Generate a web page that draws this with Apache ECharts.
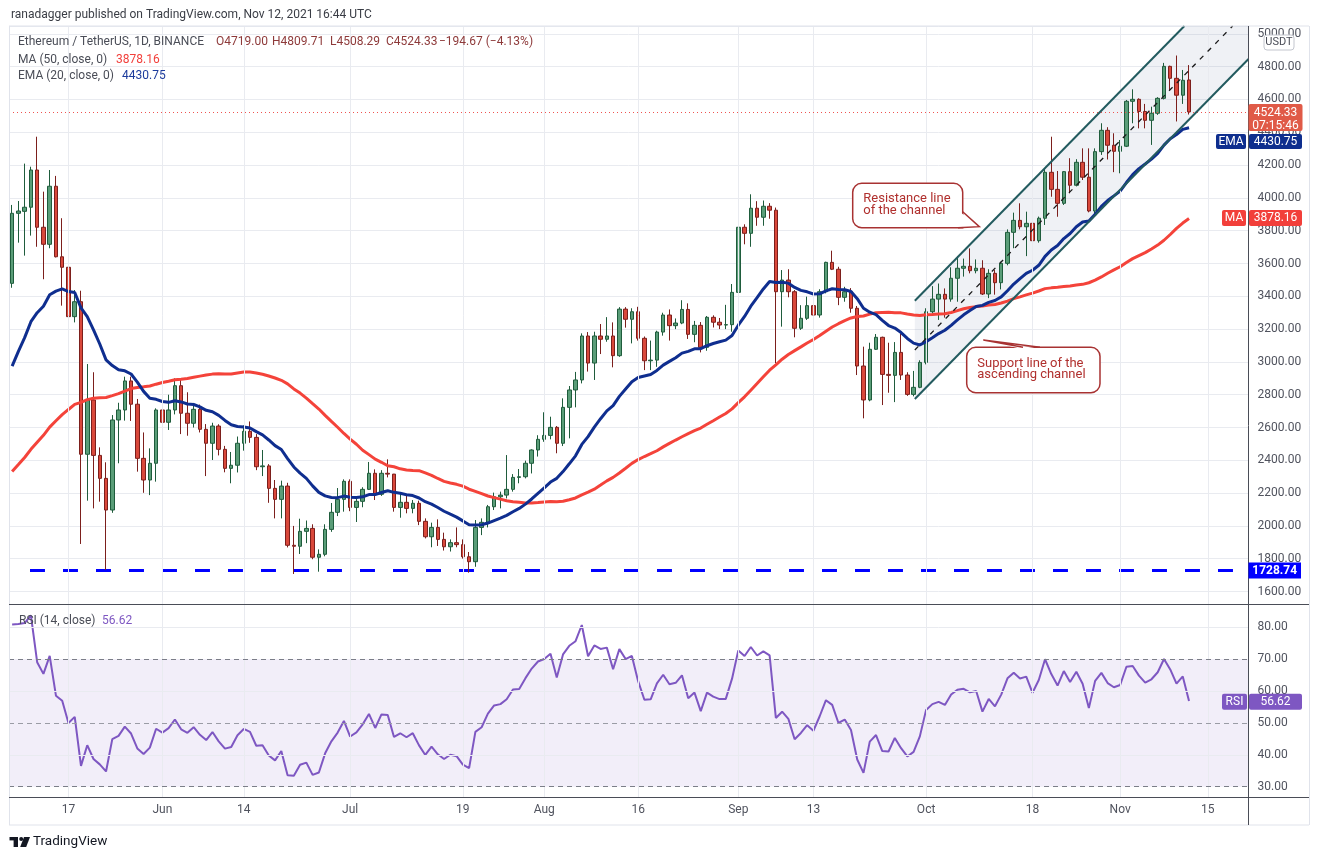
<!DOCTYPE html>
<html><head><meta charset="utf-8">
<script src="https://cdn.jsdelivr.net/npm/echarts/dist/echarts.min.js"></script>
<style>html,body{margin:0;padding:0;background:#fff;}#c{width:1320px;height:860px;}</style>
</head><body><div id="c"></div>
<script>
// ---------- DATA ----------
const startDate = [2021, 4, 8];           // 2021-05-08 (first candle)
const categoryCount = 198;                // daily slots incl. empty right margin
const tickDates = ['2021-05-17','2021-06-01','2021-06-14','2021-07-01','2021-07-19','2021-08-01','2021-08-16','2021-09-01','2021-09-13','2021-10-01','2021-10-18','2021-11-01','2021-11-15'];
const tickTexts = ['17','Jun','14','Jul','19','Aug','16','Sep','13','Oct','18','Nov','15'];

const opens = [3479,3906,3918,3943,4170,3821,3717,4071,3641,3577,
3276,3367,2437,2768,2430,2290,2097,2646,2707,2884,
2742,2412,2280,2382,2707,2632,2707,2855,2687,2626,
2711,2589,2504,2609,2467,2351,2370,2504,2577,2540,
2361,2366,2229,2162,2243,1882,1876,1967,1985,1809,
1827,1979,2083,2162,2272,2113,2150,2223,2321,2193,
2321,2316,2113,2144,2107,2138,2028,1934,1991,1918,
1873,1898,1886,1812,1782,1991,2022,2117,2178,2188,
2223,2296,2300,2382,2463,2528,2552,2601,2504,2723,
2829,2890,3158,2993,3158,3138,3158,3038,3322,3260,
3306,3144,3007,3011,3182,3286,3221,3237,3320,3168,
3223,3089,3272,3242,3225,3227,3424,3821,3784,3937,
3882,3949,3925,3428,3499,3428,3205,3266,3343,3286,
3428,3607,3565,3394,3428,3327,2975,2768,3077,3150,
2924,2918,3058,2920,2802,2845,2997,3306,3383,3412,
3383,3510,3571,3583,3556,3571,3414,3540,3483,3601,
3790,3863,3824,3845,3739,3876,4156,4052,3967,4160,
4077,4217,4126,3920,4282,4412,4321,4284,4315,4589,
4601,4527,4473,4516,4607,4802,4729,4626,4719];

const closes = [3906,3920,3943,4170,3821,3717,4071,3641,3577,3276,
3367,2437,2768,2430,2290,2097,2646,2707,2884,2742,
2412,2280,2382,2707,2632,2707,2855,2687,2626,2711,
2589,2504,2609,2467,2351,2370,2504,2577,2540,2361,
2366,2229,2162,2243,1882,1876,1967,1985,1809,1827,
1979,2083,2162,2272,2113,2150,2223,2321,2193,2321,
2316,2113,2144,2107,2138,2028,1934,1991,1918,1873,
1898,1886,1812,1782,1991,2022,2117,2178,2188,2223,
2296,2300,2382,2463,2528,2552,2601,2504,2723,2829,
2890,3158,2993,3158,3138,3158,3038,3322,3260,3306,
3144,3007,3011,3182,3286,3221,3237,3320,3168,3223,
3089,3272,3242,3225,3227,3424,3821,3784,3937,3882,
3949,3925,3428,3499,3428,3205,3266,3343,3286,3428,
3607,3565,3394,3428,3327,2975,2768,3077,3150,2924,
2918,3058,2920,2802,2845,2997,3306,3383,3412,3383,
3510,3571,3583,3556,3571,3414,3540,3483,3601,3790,
3863,3824,3845,3739,3876,4156,4052,3967,4160,4077,
4217,4126,3920,4282,4412,4321,4284,4315,4589,4601,
4527,4473,4516,4607,4802,4729,4626,4717,4524.33];

const lows = [3452,3727,3648,3770,3702,3504,3693,3637,3343,3107,
3241,1890,2154,2107,2148,1731,2080,2382,2642,2640,
2331,2202,2188,2270,2590,2585,2680,2560,2550,2600,
2570,2304,2402,2430,2327,2260,2326,2459,2507,2340,
2304,2141,2046,2046,1869,1707,1829,1895,1797,1721,
1815,1964,2060,2087,2090,2024,2114,2219,2158,2183,
2296,2087,2050,2077,2077,2005,1924,1870,1878,1850,
1844,1870,1801,1715,1751,1944,1991,2097,2107,2168,
2209,2260,2290,2320,2423,2513,2528,2443,2487,2534,
2723,2869,2941,2890,3048,3123,2967,3031,3209,3113,
3130,2950,2950,2970,3160,3130,3200,3230,3140,3120,
3058,3068,3210,3200,3200,3184,3390,3717,3702,3830,
3830,3873,2993,3215,3394,3150,3195,3256,3164,3270,
3418,3560,3346,3367,3300,2920,2656,2760,3073,2737,
2812,2755,2890,2793,2790,2840,2985,3296,3256,3270,
3367,3367,3520,3540,3540,3408,3389,3410,3442,3589,
3693,3808,3645,3679,3727,3835,4007,3885,3957,4028,
4070,4109,3912,3905,4262,4234,4157,4150,4310,4455,
4424,4424,4323,4506,4600,4658,4466,4573,4508.29];

const highs = [3957,3981,4209,4190,4373,4038,4170,4134,3876,3590,
3438,3434,2987,2937,2479,2388,2676,2751,2910,2910,
2774,2570,2473,2717,2747,2800,2900,2890,2815,2750,
2740,2621,2629,2620,2488,2451,2545,2613,2637,2560,
2463,2377,2280,2276,2263,2000,2044,2033,2010,1857,
2010,2140,2231,2284,2284,2178,2236,2390,2345,2340,
2406,2317,2199,2189,2158,2154,2046,2020,2040,1959,
1918,1991,1918,1841,2036,2046,2128,2203,2209,2432,
2316,2347,2398,2467,2553,2693,2666,2609,2778,2853,
2939,3174,3182,3184,3231,3273,3241,3334,3334,3327,
3336,3155,3130,3190,3300,3320,3265,3376,3357,3250,
3243,3280,3284,3268,3348,3475,3835,3839,4022,3980,
3984,3968,3941,3560,3565,3438,3346,3398,3398,3443,
3611,3678,3580,3458,3450,3341,3093,3117,3170,3154,
3117,3121,3170,2937,2945,3010,3327,3462,3478,3448,
3577,3646,3630,3692,3625,3620,3565,3560,3611,3808,
3910,3967,3916,3924,3886,4180,4373,4164,4164,4242,
4236,4302,4302,4302,4455,4431,4394,4353,4597,4662,
4607,4573,4556,4614,4823,4806,4868,4780,4809.71];

// closes before the first visible candle (2021-03-19 .. 2021-05-07), used to warm up MA/EMA/RSI
const priorCloses = [1810,1806,1782,1680,1670,1582,1587,1700,1715,1690,1817,1845,1918,
1977,2143,2028,2093,2107,2112,1964,2080,2070,2135,2150,2137,2300,2430,2515,2420,2315,
2235,2170,2330,2360,2400,2365,2210,2315,2535,2660,2745,2756,2770,
2945,2950,3430,3240,3520,3490,3480];

// drawn objects (x in day index, y in price)
const supportLine = [[144.2, 2774], [197.5, 4847]];
const resistanceLine = [[144.2, 3373], [187.26, 5048]];
const midLine = [[144.2, 3073], [194.97, 5048]];
const supportLevel = [[2.85, 1728.74], [197.5, 1728.74]];
const lastPrice = 4524.33;
const lastMA = 3878.16, lastEMA = 4430.75, lastRSI = 56.62;

// ---------- DERIVED ----------
const dates = [];
for (let i = 0; i < categoryCount; i++) {
  const d = new Date(Date.UTC(startDate[0], startDate[1], startDate[2] + i));
  dates.push(d.toISOString().slice(0, 10));
}
const tickIdx = tickDates.map(d => dates.indexOf(d));
const candles = opens.map((o, i) => [o, closes[i], lows[i], highs[i]]);
const all = priorCloses.concat(closes);
const P = priorCloses.length;
function smaArr(v, n) { return v.map((x, i) => i < n - 1 ? null : v.slice(i - n + 1, i + 1).reduce((a, b) => a + b, 0) / n); }
function emaArr(v, n) {
  const k = 2 / (n + 1), out = []; let e = null;
  for (let i = 0; i < v.length; i++) {
    if (i < n - 1) { out.push(null); continue; }
    if (i === n - 1) e = v.slice(0, n).reduce((a, b) => a + b, 0) / n; else e = v[i] * k + e * (1 - k);
    out.push(e);
  }
  return out;
}
function rsiArr(v, n) {
  const out = new Array(v.length).fill(null); let g = 0, l = 0;
  for (let k = 1; k <= n; k++) { const d = v[k] - v[k - 1]; if (d > 0) g += d; else l -= d; }
  g /= n; l /= n; out[n] = 100 - 100 / (1 + g / l);
  for (let k = n + 1; k < v.length; k++) {
    const d = v[k] - v[k - 1];
    g = (g * (n - 1) + Math.max(d, 0)) / n; l = (l * (n - 1) + Math.max(-d, 0)) / n;
    out[k] = l === 0 ? 100 : 100 - 100 / (1 + g / l);
  }
  return out;
}
const r2 = x => x == null ? null : Math.round(x * 100) / 100;
const ma50 = smaArr(all, 50).slice(P).map(r2);
const ema20 = emaArr(all, 20).slice(P).map(r2);
const rsi14 = rsiArr(all, 14).slice(P).map(r2);
const channelPoly = [supportLine[0], resistanceLine[0], resistanceLine[1], [197.5, 5048], supportLine[1]];

// ---------- CHART ----------
const FONT = 'Roboto, "Liberation Sans", Arial, sans-serif';
const GRID = '#e9ebf0';
const AX = '#50535e';
const chart = echarts.init(document.getElementById('c'), null, { width: 1320, height: 860 });

const vGrid = tickIdx.map(i => ({ xAxis: i }));
const rsiLevels = [
  { yAxis: 80, lineStyle: { color: GRID, type: 'solid', width: 1 } },
  { yAxis: 60, lineStyle: { color: GRID, type: 'solid', width: 1 } },
  { yAxis: 40, lineStyle: { color: GRID, type: 'solid', width: 1 } },
  { yAxis: 70, lineStyle: { color: '#7b7e88', type: [5, 4], width: 1 } },
  { yAxis: 50, lineStyle: { color: '#9a9ca5', type: [5, 4], width: 1 } },
  { yAxis: 30, lineStyle: { color: '#7b7e88', type: [5, 4], width: 1 } }
];

const option = {
  animation: false,
  backgroundColor: '#ffffff',
  grid: [
    { left: 9, right: 71.5, top: 26, height: 578.5 },
    { left: 9, right: 71.5, top: 605, height: 192 }
  ],
  xAxis: [
    { type: 'category', gridIndex: 0, data: dates, boundaryGap: true, axisLine: { show: false }, axisTick: { show: false }, axisLabel: { show: false }, splitLine: { show: false } },
    { type: 'category', gridIndex: 1, data: dates, boundaryGap: true, axisLine: { show: false }, axisTick: { show: false },
      axisLabel: { show: true, interval: (idx) => tickIdx.indexOf(idx) >= 0, formatter: v => { const k = tickDates.indexOf(v); return k >= 0 ? tickTexts[k] : ''; },
        color: AX, fontSize: 12, fontFamily: FONT, margin: 7 }, splitLine: { show: false } },
    { type: 'value', gridIndex: 0, min: -0.5, max: categoryCount - 0.5, show: false },
    { type: 'value', gridIndex: 1, min: -0.5, max: categoryCount - 0.5, show: false }
  ],
  yAxis: [
    { type: 'value', gridIndex: 0, position: 'right', min: 1521, max: 5048, splitNumber: 17,
      axisLine: { show: false }, axisTick: { show: false },
      axisLabel: { color: AX, fontSize: 12, fontFamily: FONT, margin: 9, formatter: v => Math.abs(v / 200 - Math.round(v / 200)) < 1e-6 ? v.toFixed(2) : '' },
      splitLine: { show: true, lineStyle: { color: GRID, width: 1 } } },
    { type: 'value', gridIndex: 1, position: 'right', min: 26.77, max: 86.9, splitNumber: 6,
      axisLine: { show: false }, axisTick: { show: false },
      axisLabel: { color: AX, fontSize: 12, fontFamily: FONT, margin: 9, formatter: v => Math.abs(v / 10 - Math.round(v / 10)) < 1e-6 ? v.toFixed(2) : '' },
      splitLine: { show: false } }
  ],
  series: [
    { type: 'custom', xAxisIndex: 2, yAxisIndex: 0, data: [[0, 0]], silent: true, z: 1,
      renderItem: (params, api) => ({ type: 'polygon', shape: { points: channelPoly.map(p => api.coord(p)) }, style: { fill: 'rgba(110,125,160,0.11)' } }) },
    { type: 'line', xAxisIndex: 2, yAxisIndex: 0, data: [[-10, 3000]], showSymbol: false, silent: true, z: 1,
      markLine: { silent: true, symbol: ['none', 'none'], label: { show: false }, lineStyle: { color: GRID, type: 'solid', width: 1 }, data: vGrid } },
    { type: 'line', xAxisIndex: 2, yAxisIndex: 0, data: supportLevel, showSymbol: false, silent: true, z: 3,
      lineStyle: { color: '#0000ff', width: 3, type: [15, 18] } },
    { type: 'candlestick', xAxisIndex: 0, yAxisIndex: 0, data: candles, barWidth: 4, z: 3,
      itemStyle: { color: '#5a9d78', color0: '#d9483b', borderColor: '#1f5c3c', borderColor0: '#7c1f1c', borderWidth: 1 },
      markLine: { silent: true, symbol: ['none', 'none'], label: { show: false }, lineStyle: { color: '#ef5350', type: [1, 3], width: 1 }, data: [{ yAxis: lastPrice }] } },
    { type: 'line', xAxisIndex: 0, yAxisIndex: 0, data: ma50, showSymbol: false, silent: true, z: 4, lineStyle: { color: '#f4433a', width: 3 } },
    { type: 'line', xAxisIndex: 0, yAxisIndex: 0, data: ema20, showSymbol: false, silent: true, z: 4, lineStyle: { color: '#0f2e8f', width: 3 } },
    { type: 'line', xAxisIndex: 2, yAxisIndex: 0, data: supportLine, showSymbol: false, silent: true, z: 5, lineStyle: { color: '#235b5f', width: 2 } },
    { type: 'line', xAxisIndex: 2, yAxisIndex: 0, data: resistanceLine, showSymbol: false, silent: true, z: 5, lineStyle: { color: '#235b5f', width: 2 } },
    { type: 'line', xAxisIndex: 2, yAxisIndex: 0, data: midLine, showSymbol: false, silent: true, z: 5, lineStyle: { color: '#1a1a1a', width: 1.3, type: [5, 6] } },
    { type: 'line', xAxisIndex: 3, yAxisIndex: 1, data: [[-10, 50]], showSymbol: false, silent: true, z: 1,
      markArea: { silent: true, itemStyle: { color: 'rgba(126,87,194,0.1)' }, data: [[{ yAxis: 30 }, { yAxis: 70 }]] },
      markLine: { silent: true, symbol: ['none', 'none'], label: { show: false }, lineStyle: { color: GRID, type: 'solid', width: 1 }, data: vGrid.concat(rsiLevels) } },
    { type: 'line', xAxisIndex: 1, yAxisIndex: 1, data: rsi14, showSymbol: false, silent: true, z: 4, lineStyle: { color: '#7e57c2', width: 2 } }
  ]
};
chart.setOption(option);

// ---------- OVERLAY TEXT / TAGS ----------
const yP = v => chart.convertToPixel({ yAxisIndex: 0 }, v);
const yR = v => chart.convertToPixel({ yAxisIndex: 1 }, v);
function txt(x, y, text, extra) {
  return { type: 'text', x, y, silent: true, z: 120, style: Object.assign({ text, fontFamily: FONT, fontSize: 12, fill: '#4a4d57', verticalAlign: 'middle', align: 'left' }, extra || {}) };
}
function box(x, y, w, h, color, extra) {
  return { type: 'rect', silent: true, z: 110, shape: Object.assign({ x, y, width: w, height: h, r: 2 }, extra || {}), style: { fill: color } };
}
function line(x1, y1, x2, y2, color, z) {
  return { type: 'line', silent: true, z: z || 50, shape: { x1, y1, x2, y2 }, style: { stroke: color, lineWidth: 1 } };
}
const g = [];
// frame
g.push(line(9, 26, 1309, 26, '#e0e3eb'), line(9.5, 26, 9.5, 825, '#e0e3eb'), line(1309.5, 26, 1309.5, 825, '#e0e3eb'), line(9, 825, 1309, 825, '#e0e3eb'));
g.push(line(9, 604.5, 1309, 604.5, '#4a4d57'), line(9, 797.5, 1309, 797.5, '#4a4d57'), line(1248.5, 26, 1248.5, 825, '#4a4d57'));
// header
g.push(txt(11, 15, 'ranadagger published on TradingView.com, Nov 12, 2021 16:44 UTC', { fill: '#3a3d45' }));
g.push(txt(18, 42, 'Ethereum / TetherUS, 1D, BINANCE'));
const red = '#8e3a3a';
g.push(txt(216, 42, 'O4719.00', { fill: red }), txt(272, 42, 'H4809.71', { fill: red }), txt(330, 42, 'L4508.29', { fill: red }), txt(386, 42, 'C4524.33', { fill: red }), txt(439, 42, '\u2212194.67 (\u22124.13%)', { fill: red }));
g.push(txt(18, 60, 'MA (50, close, 0)'), txt(116, 60, '3878.16', { fill: '#f23f3a' }));
g.push(txt(18, 76, 'EMA (20, close, 0)'), txt(122, 76, '4430.75', { fill: '#1c3b9c' }));
g.push(txt(19, 621, 'RSI (14, close)'), txt(102, 621, '56.62', { fill: '#7e57c2' }));
// USDT box
g.push({ type: 'rect', silent: true, z: 115, shape: { x: 1264, y: 35, width: 30, height: 15, r: 3 }, style: { fill: '#fff', stroke: '#c3c6ce', lineWidth: 1 } });
g.push(txt(1279, 42.7, 'USDT', { align: 'center', fontSize: 11, fill: '#4a4d57', z: 120 }));
// price tag
const yLast = yP(lastPrice);
const cRed = '#e05a47';
g.push(box(1248.5, yLast - 8, 54, 27, cRed));
g.push(txt(1275.5, yLast + 1.5, '4524.33', { align: 'center', fill: '#fff' }), txt(1275.5, yLast + 14, '07:15:46', { align: 'center', fill: '#fff' }));
// EMA tag (pushed below price tag)
const emaTop = yLast - 8 + 27 + 3;
const cBlue = '#0e2e8e';
g.push(box(1216, emaTop, 30, 15, cBlue), box(1249, emaTop, 53, 15, cBlue));
g.push(txt(1231, emaTop + 7.8, 'EMA', { align: 'center', fill: '#fff' }), txt(1275.5, emaTop + 7.8, '4430.75', { align: 'center', fill: '#fff' }));
// MA tag
const yMA = yP(lastMA);
const cMA = '#f23f3a';
g.push(box(1222, yMA - 8, 24, 16, cMA), box(1249, yMA - 8, 53, 16, cMA));
g.push(txt(1234, yMA + 0.5, 'MA', { align: 'center', fill: '#fff' }), txt(1275.5, yMA + 0.5, '3878.16', { align: 'center', fill: '#fff' }));
// 1728.74 tag
const ySL = yP(supportLevel[0][1]);
g.push(box(1248.5, ySL - 8, 52.5, 16, '#0000ff', { r: 0 }));
g.push(txt(1274.7, ySL + 0.5, '1728.74', { align: 'center', fill: '#fff', fontWeight: 'bold' }));
// RSI tag
const yRS = yR(lastRSI);
const cRSI = '#7e57c2';
g.push(box(1222, yRS - 8, 25, 16, cRSI), box(1249, yRS - 8, 53, 16, cRSI));
g.push(txt(1234.5, yRS + 0.5, 'RSI', { align: 'center', fill: '#fff' }), txt(1275.5, yRS + 0.5, '56.62', { align: 'center', fill: '#fff' }));
// callouts
const cc = '#a83232', ct = '#b0302e';
g.push({ type: 'rect', silent: true, z: 100, shape: { x: 852.7, y: 183.3, width: 110, height: 44.4, r: [9, 9, 0, 9] }, style: { fill: '#fff', stroke: cc, lineWidth: 1.5 } });
g.push({ type: 'polygon', silent: true, z: 101, shape: { points: [[961, 212.8], [979.3, 226.7], [961, 227]] }, style: { fill: '#fff' } });
g.push({ type: 'polyline', silent: true, z: 102, shape: { points: [[962.7, 211.7], [979.3, 226.7], [958, 227.7]] }, style: { stroke: cc, lineWidth: 1.5, fill: null } });
g.push(txt(863.3, 198.3, 'Resistance line', { fill: ct, fontSize: 13 }), txt(863.3, 210.9, 'of the channel', { fill: ct, fontSize: 13 }));
g.push({ type: 'rect', silent: true, z: 100, shape: { x: 966.7, y: 347.3, width: 133.3, height: 45.4, r: 9 }, style: { fill: '#fff', stroke: cc, lineWidth: 1.5 } });
g.push({ type: 'polygon', silent: true, z: 101, shape: { points: [[1022, 349], [983.3, 340], [1041, 349]] }, style: { fill: '#fff' } });
g.push({ type: 'polyline', silent: true, z: 102, shape: { points: [[1023, 347.3], [983.3, 340], [1040, 347.3]] }, style: { stroke: cc, lineWidth: 1.5, fill: null } });
g.push(txt(977.3, 363.3, 'Support line of the', { fill: ct, fontSize: 13 }), txt(977.3, 375.2, 'ascending channel', { fill: ct, fontSize: 13 }));
// TradingView logo
const tv = '#131722';
g.push(box(9.5, 837, 8.5, 3.4, tv, { r: 0 }), box(13.6, 837, 4.4, 10, tv, { r: 0 }));
g.push({ type: 'circle', silent: true, z: 110, shape: { cx: 21.2, cy: 839, r: 2 }, style: { fill: tv } });
g.push({ type: 'polygon', silent: true, z: 110, shape: { points: [[24, 837], [30, 837], [26.2, 847], [20.2, 847]] }, style: { fill: tv } });
g.push(txt(33, 842, 'TradingView', { fill: tv, fontSize: 13.5 }));

chart.setOption({ graphic: { elements: g } });
</script></body></html>
